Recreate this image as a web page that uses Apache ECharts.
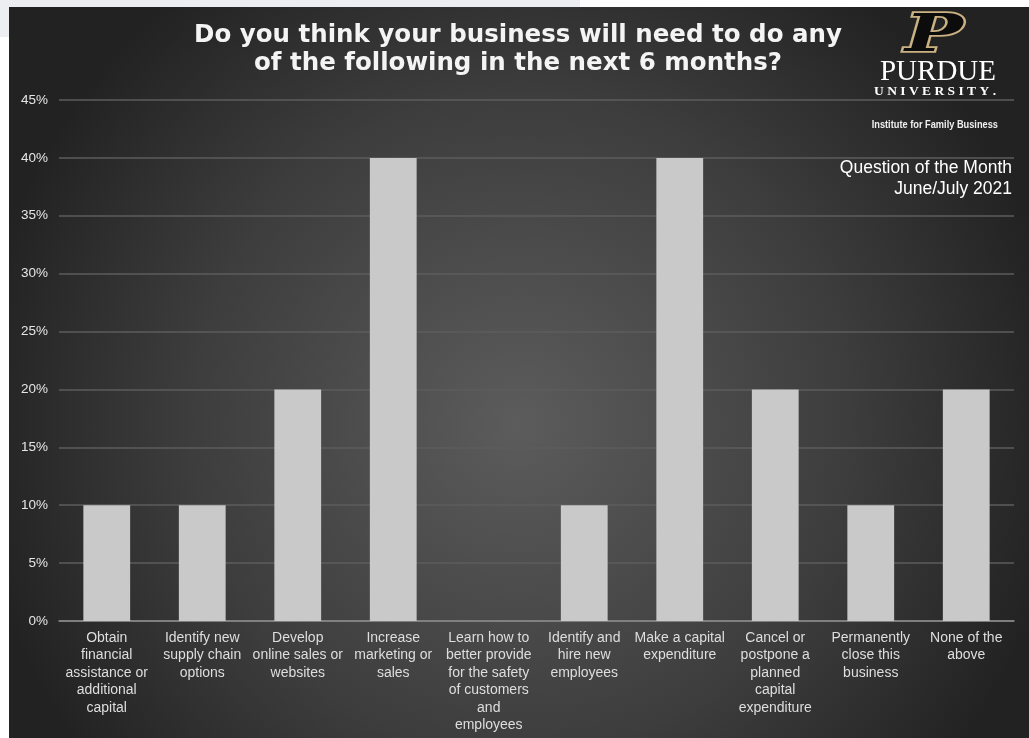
<!DOCTYPE html>
<html><head><meta charset="utf-8">
<script src="https://cdn.jsdelivr.net/npm/echarts@6/dist/echarts.min.js"></script>
<style>html,body{margin:0;padding:0;background:#fff}#c{width:1029px;height:738px}</style>
</head><body><div id="c"></div>
<script>
const categories = [
  "Obtain\nfinancial\nassistance or\nadditional\ncapital",
  "Identify new\nsupply chain\noptions",
  "Develop\nonline sales or\nwebsites",
  "Increase\nmarketing or\nsales",
  "Learn how to\nbetter provide\nfor the safety\nof customers\nand\nemployees",
  "Identify and\nhire new\nemployees",
  "Make a capital\nexpenditure",
  "Cancel or\npostpone a\nplanned\ncapital\nexpenditure",
  "Permanently\nclose this\nbusiness",
  "None of the\nabove"
];
const values = [10, 10, 20, 40, 0, 10, 40, 20, 10, 20];
const titleLines = "Do you think your business will need to do any\nof the following in the next 6 months?";
const subtitleLines = "Question of the Month\nJune/July 2021";

const chart = echarts.init(document.getElementById('c'));
chart.setOption({
  backgroundColor: '#ffffff',
  animation: false,
  graphic: [
    { type: 'rect', z: -10, shape: { x: 0, y: 0, width: 580, height: 37 }, style: { fill: '#eceef1' } },
    { type: 'rect', z: -9, shape: { x: 9, y: 7, width: 1020, height: 731 },
      style: { fill: { type: 'radial', x: 0.5, y: 0.57, r: 0.75,
        colorStops: [{ offset: 0, color: '#5c5c5c' }, { offset: 0.6, color: '#3d3d3d' }, { offset: 1, color: '#222222' }] } } },
    { type: 'text', z: 5, x: 934, y: 11, scaleX: 1.45, style: { text: 'P', fontFamily: 'DejaVu Serif', fontWeight: 'bold', fontStyle: 'italic', fontSize: 53, fill: '#0c0c0c', stroke: '#c9b183', lineWidth: 3.5, align: 'center', verticalAlign: 'top' } },
    { type: 'text', z: 5, x: 996, y: 58, style: { text: 'PURDUE', fontFamily: 'Liberation Serif', fontSize: 29, fill: '#ffffff', align: 'right', verticalAlign: 'top' } },
    { type: 'text', z: 5, x: 996, y: 85, style: { text: 'U N I V E R S I T Y .', fontFamily: 'Liberation Serif', fontWeight: 'bold', fontSize: 13.5, fill: '#ffffff', align: 'right', verticalAlign: 'top' } },
    { type: 'text', z: 5, x: 998, y: 119, scaleX: 0.84, style: { text: 'Institute for Family Business', fontFamily: 'Liberation Sans', fontWeight: 'bold', fontSize: 11, fill: '#f0f0f0', align: 'right', verticalAlign: 'top' } },
    { type: 'text', z: 5, x: 1012, y: 158, style: { text: subtitleLines, fontFamily: 'Liberation Sans', fontSize: 17.5, lineHeight: 21, fill: '#ffffff', align: 'right', verticalAlign: 'top' } }
  ],
  title: {
    text: titleLines, left: 513, top: 17, textAlign: 'center',
    textStyle: { fontFamily: 'DejaVu Sans', fontWeight: 'bold', fontSize: 24.5, lineHeight: 28, color: '#f4f4f4' }
  },
  grid: { left: 59, right: 15, top: 100, bottom: 117, containLabel: false },
  xAxis: {
    type: 'category', data: categories,
    axisLine: { lineStyle: { color: '#8e8e8e', width: 1.5 } },
    axisTick: { show: false },
    axisLabel: { interval: 0, color: '#dedede', fontFamily: 'Liberation Sans', fontSize: 14, lineHeight: 17.5, margin: 8 }
  },
  yAxis: {
    type: 'value', min: 0, max: 45, interval: 5,
    axisLabel: { formatter: '{value}%', color: '#e6e6e6', fontFamily: 'Liberation Sans', fontSize: 13.5, margin: 11 },
    splitLine: { lineStyle: { color: '#5c5c5c', width: 1.5 } },
    axisLine: { show: false }, axisTick: { show: false }
  },
  series: [{
    type: 'bar', data: values, barWidth: '49%',
    itemStyle: { color: '#c9c9c9' }
  }]
});
</script></body></html>
